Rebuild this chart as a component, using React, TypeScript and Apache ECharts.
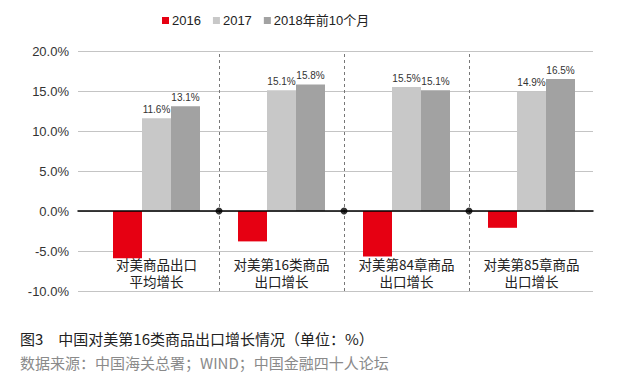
import React, { useEffect, useRef } from "react";
import * as echarts from "echarts";

const categories = [
  "对美商品出口\n平均增长",
  "对美第16类商品\n出口增长",
  "对美第84章商品\n出口增长",
  "对美第85章商品\n出口增长",
];
const seriesNames = ["2016", "2017", "2018年前10个月"];
const values2016 = [-5.9, -3.8, -5.7, -2.1];
const values2017 = [11.6, 15.1, 15.5, 14.9];
const values2018 = [13.1, 15.8, 15.1, 16.5];
const separators = [1, 2, 3];
const yTicks = { min: -10, max: 20, interval: 5 };
const caption = "图3　中国对美第16类商品出口增长情况（单位：%）";
const source = "数据来源：中国海关总署；WIND；中国金融四十人论坛";

const colors = ["#E60012", "#C8C8C8", "#A2A2A2"];
const latin = "Liberation Sans, Noto Sans CJK SC, sans-serif";
const cjk = "Noto Sans CJK SC, Liberation Sans, sans-serif";

export default function App() {
  const ref = useRef<HTMLDivElement>(null);
  useEffect(() => {
    if (!ref.current) return;
    const chart = echarts.init(ref.current, null, { renderer: "svg" });
    const labelCfg = {
      show: true,
      position: "top",
      distance: 4,
      fontSize: 10,
      color: "#333",
      fontFamily: latin,
      formatter: (p: any) => Number(p.value).toFixed(1) + "%",
    };
    chart.setOption({
      animation: false,
      backgroundColor: "#fff",
      title: [
        {
          text: caption,
          left: 15,
          top: 326,
          textStyle: { fontSize: 15, fontWeight: "normal", color: "#222", fontFamily: cjk },
        },
        {
          text: source,
          left: 15,
          top: 350,
          textStyle: { fontSize: 15, fontWeight: "normal", color: "#8a8a8a", fontFamily: cjk },
        },
      ],
      legend: {
        data: seriesNames,
        left: 157,
        top: 9,
        icon: "rect",
        itemWidth: 7,
        itemHeight: 7,
        itemGap: 12,
        textStyle: { fontSize: 13, color: "#222", fontFamily: latin, padding: [0, 0, 0, -2] },
      },
      grid: [
        { left: 78, right: 41, top: 51, bottom: 90 },
        { left: 94, right: 40, top: 51, bottom: 90 },
      ],
      xAxis: [
        {
          type: "value",
          gridIndex: 0,
          min: -0.128,
          max: 3.992,
          z: 10,
          axisLine: { show: true, onZero: true, lineStyle: { color: "#000", width: 1.5 } },
          axisTick: { show: false },
          axisLabel: { show: false },
          splitLine: { show: false },
        },
        {
          type: "category",
          gridIndex: 1,
          data: categories,
          axisLine: { show: false },
          axisTick: { show: false },
          splitLine: { show: false },
          axisLabel: {
            interval: 0,
            margin: -35,
            fontSize: 13.5,
            lineHeight: 16.5,
            color: "#222",
            fontFamily: cjk,
          },
        },
      ],
      yAxis: [
        {
          type: "value",
          gridIndex: 0,
          min: yTicks.min,
          max: yTicks.max,
          interval: yTicks.interval,
          axisLine: { show: false },
          axisTick: { show: false },
          axisLabel: {
            margin: 9,
            fontSize: 13,
            color: "#333",
            fontFamily: latin,
            formatter: (v: number) => v.toFixed(1) + "%",
          },
          splitLine: { show: true, lineStyle: { color: "#C4C4C4", width: 1 } },
        },
        {
          type: "value",
          gridIndex: 1,
          min: yTicks.min,
          max: yTicks.max,
          interval: yTicks.interval,
          show: false,
          splitLine: { show: false },
        },
      ],
      series: [
        {
          name: seriesNames[0],
          type: "bar",
          xAxisIndex: 1,
          yAxisIndex: 1,
          data: values2016,
          barWidth: 29,
          barGap: "0%",
          itemStyle: { color: colors[0] },
        },
        {
          name: seriesNames[1],
          type: "bar",
          xAxisIndex: 1,
          yAxisIndex: 1,
          data: values2017,
          barWidth: 29,
          barGap: "0%",
          itemStyle: { color: colors[1] },
          label: labelCfg,
        },
        {
          name: seriesNames[2],
          type: "bar",
          xAxisIndex: 1,
          yAxisIndex: 1,
          data: values2018,
          barWidth: 29,
          barGap: "0%",
          itemStyle: { color: colors[2] },
          label: labelCfg,
        },
        {
          type: "scatter",
          xAxisIndex: 0,
          yAxisIndex: 0,
          data: separators.map((s) => [s, 0]),
          symbolSize: 7,
          z: 20,
          itemStyle: { color: "#000" },
          silent: true,
          markLine: {
            silent: true,
            symbol: "none",
            label: { show: false },
            lineStyle: { type: [3, 3], color: "#777", width: 1 },
            data: separators.map((s) => ({ xAxis: s })),
          },
        },
      ],
    });
    return () => chart.dispose();
  }, []);
  return (
    <div
      ref={ref}
      style={{ position: "fixed", left: 0, top: 0, width: 634, height: 381, background: "#fff" }}
    />
  );
}
